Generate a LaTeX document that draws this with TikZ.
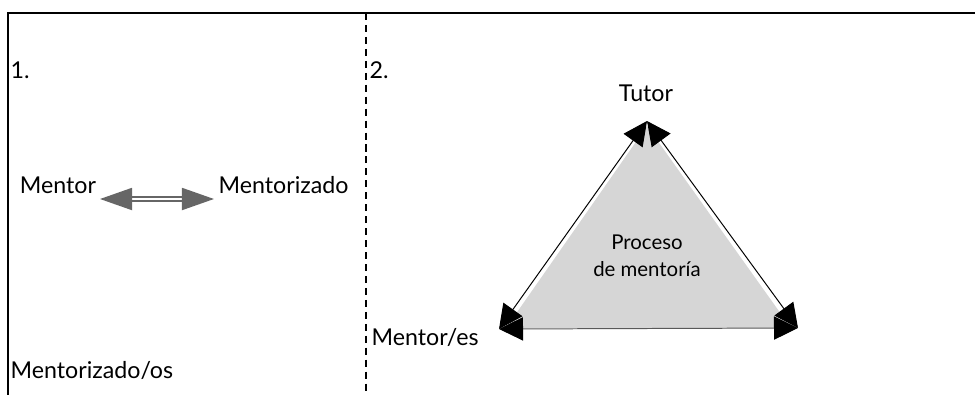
\documentclass[tikz,border=0pt]{standalone}
\usepackage{fontspec}
\setmainfont{Lato}
\usetikzlibrary{arrows.meta}

\tikzset{
    lbl/.style={font=\fontsize{16.5}{19}\selectfont, inner sep=1pt},
    smalllbl/.style={font=\fontsize{14.5}{17}\selectfont, align=center, inner sep=1pt},
    edge/.style={line width=0.7pt, {Triangle[length=6mm,width=5.8mm,color=black]}-{Triangle[length=6mm,width=5.8mm,color=black]}}
}

\begin{document}
\begin{tikzpicture}[x=0.025cm, y=-0.025cm]
            \useasboundingbox (0,0) rectangle (975,395);

            % frame and divider
            \draw[line width=1.1pt] (8,395) -- (8,13) -- (980,13);
            \draw[line width=1.6pt, dash pattern=on 5pt off 3.5pt] (366,13) -- (366,395);

            % panel 1
            \node[lbl, anchor=west] (one) at (9,70) {1.};
            \node[lbl] (mentor) at (58,185) {Mentor};
            \node[lbl, anchor=west] (mentorizado) at (217,185) {Mentorizado};
            \node[lbl, anchor=west] (mentorizados) at (9,370) {Mentorizado/os};
            \coordinate (l) at (100,199);
            \coordinate (r) at (214,199);
            \draw[black!60, line width=1.3pt, double=white, double distance=1.6pt,
                  {Triangle[length=8mm,width=5.5mm]}-{Triangle[length=8mm,width=5.5mm]}] (l) -- (r);

            % panel 2
            \node[lbl, anchor=west] (two) at (368,70) {2.};
            \coordinate (top) at (647,121);
            \coordinate (left) at (499,329);
            \coordinate (right) at (798,328);
            \fill[black!16] (647,126) -- (506,328) -- (791,328) -- cycle;
            \draw[edge] (left) -- (top);
            \draw[edge] (top) -- (right);
            \draw[edge, black!65] (left) -- (right);

            \node[lbl] (tutor) at (646,93) {Tutor};
            \node[lbl, anchor=west] (mentores) at (370,337) {Mentor/es};
            \node[smalllbl] (proceso) at (647,256) {Proceso\\[2pt]de mentoría};
\end{tikzpicture}
\end{document}
